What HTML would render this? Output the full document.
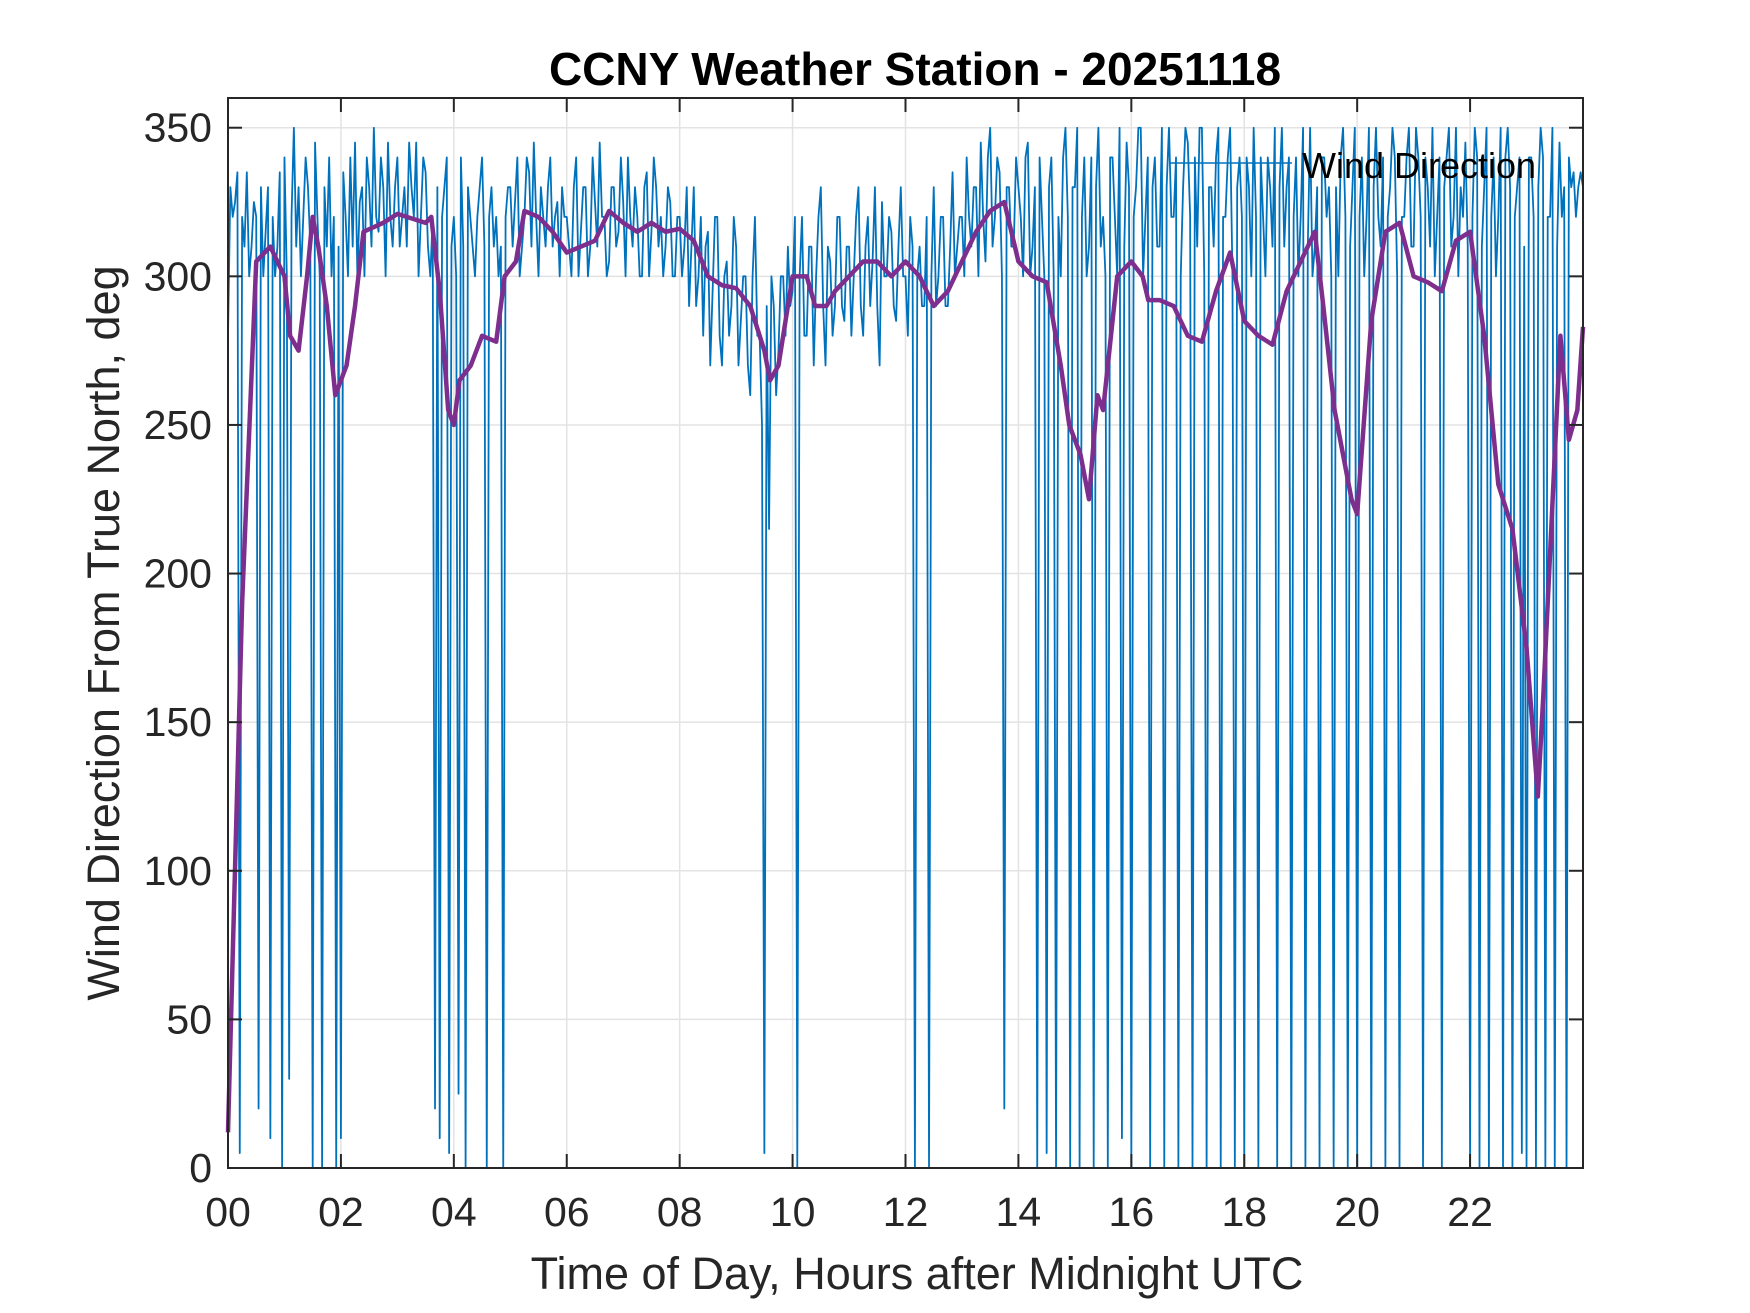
<!DOCTYPE html>
<html><head><meta charset="utf-8"><style>
html,body{margin:0;padding:0;background:#fff;width:1750px;height:1313px;overflow:hidden}
svg text{font-family:"Liberation Sans",Arial,sans-serif}
</style></head><body>
<svg id="chart" width="1750" height="1313" xmlns="http://www.w3.org/2000/svg">
<rect width="1750" height="1313" fill="#fff"/>
<g id="grid"></g>
<g id="series"></g>
<g id="axes"></g>
<text x="915" y="85" font-size="46" font-weight="bold" text-anchor="middle" fill="#000">CCNY Weather Station - 20251118</text>
<text x="917" y="1289" font-size="45" text-anchor="middle" fill="#262626">Time of Day, Hours after Midnight UTC</text>
<text transform="translate(119,633) rotate(-90)" font-size="45" text-anchor="middle" fill="#262626">Wind Direction From True North, deg</text>
<g>
<line x1="1170" y1="163" x2="1292" y2="163" stroke="#0072BD" stroke-width="1.5"/>
<text x="1302" y="178" font-size="36" fill="#000">Wind Direction</text>
</g>
</svg>
<script>
const xTicks=[0,2,4,6,8,10,12,14,16,18,20,22];
const xTickLabels=["00","02","04","06","08","10","12","14","16","18","20","22"];
const yTicks=[0,50,100,150,200,250,300,350];
const windDir=[
280,330,320,325,335,5,320,310,335,300,310,325,320,20,330,300,315,330,10,320,300,310,335,0,
340,300,30,320,350,310,330,300,320,340,330,310,0,345,320,300,0,330,310,340,300,320,0,310,
10,335,320,300,340,310,345,300,325,330,300,340,330,310,350,320,315,340,330,300,345,320,310,330,
340,310,320,330,310,345,330,320,345,300,320,340,335,310,300,320,20,330,10,320,330,340,5,310,
320,300,25,340,310,0,330,320,310,300,320,330,340,310,0,320,330,310,320,300,310,0,320,330,
330,310,325,340,300,310,320,340,335,310,345,320,300,330,320,310,330,340,310,320,325,300,330,320,
320,310,300,330,340,300,315,330,330,300,310,340,325,310,345,320,320,300,305,330,330,310,315,340,
325,300,340,320,310,330,320,300,300,330,335,300,315,340,330,310,320,300,310,330,325,300,300,320,
320,300,310,330,290,310,330,290,300,320,280,310,315,270,295,320,320,280,270,300,305,280,290,320,
310,270,285,300,300,270,260,300,320,280,280,250,5,290,215,300,290,260,275,300,300,280,310,290,
295,320,0,300,320,280,280,310,310,270,300,320,330,290,270,310,305,280,290,320,320,290,285,310,
310,280,300,320,330,290,280,310,320,290,305,330,290,270,325,300,300,320,315,290,285,310,330,300,
300,280,320,310,0,300,310,290,290,320,0,300,330,290,300,320,320,290,290,310,335,300,310,320,
320,300,340,320,310,330,330,300,345,320,305,340,350,310,320,340,335,300,20,330,330,310,310,340,
330,320,300,340,345,300,310,330,0,340,320,300,5,330,340,300,0,320,300,340,350,320,0,330,
330,350,0,320,340,300,310,340,0,330,350,310,320,300,0,340,340,320,300,350,10,310,345,330,
0,320,330,350,350,300,320,340,0,330,340,310,310,350,0,330,350,320,320,340,0,300,330,350,
345,320,0,340,310,350,350,300,0,330,330,310,340,350,0,320,320,340,350,300,0,330,340,320,
0,340,330,300,350,320,0,340,320,300,340,330,310,350,0,330,350,310,330,340,0,320,340,300,
320,350,0,310,350,300,310,330,0,340,340,320,330,300,0,330,300,340,350,320,0,310,330,350,
0,320,340,300,320,350,0,330,350,320,310,340,0,320,330,350,340,300,0,320,320,340,350,310,
310,350,340,320,0,340,330,310,350,300,320,340,0,330,340,350,310,320,350,300,330,320,345,310,
0,320,350,340,0,310,330,350,0,320,340,300,320,350,0,340,350,330,0,320,330,340,5,310,
0,340,340,320,0,330,350,340,0,320,320,350,0,310,345,320,330,0,340,330,335,320,330,335,330];
const avgTime=[0,0.25,0.5,0.75,1.0,1.1,1.25,1.4,1.5,1.6,1.75,1.9,2.1,2.25,2.4,2.75,3.0,3.5,3.6,3.75,3.9,4.0,4.1,4.3,4.5,4.75,4.9,5.1,5.25,5.5,5.75,6.0,6.5,6.75,7.0,7.25,7.5,7.75,8.0,8.25,8.5,8.75,9.0,9.25,9.5,9.6,9.75,10.0,10.25,10.4,10.6,10.75,11.0,11.25,11.5,11.75,12.0,12.25,12.5,12.75,13.0,13.25,13.5,13.75,14.0,14.25,14.5,14.75,14.9,15.1,15.25,15.4,15.5,15.75,16.0,16.2,16.3,16.5,16.75,17.0,17.25,17.5,17.75,18.0,18.25,18.5,18.75,19.0,19.25,19.4,19.6,19.75,19.9,20.0,20.25,20.5,20.75,21.0,21.25,21.5,21.75,22.0,22.25,22.5,22.75,23.0,23.2,23.3,23.5,23.6,23.75,23.9,24.0];
const avgDir=[12,190,305,310,300,280,275,300,320,310,290,260,270,290,315,318,321,318,320,295,255,250,265,270,280,278,300,305,322,320,315,308,312,322,318,315,318,315,316,312,300,297,296,290,275,265,270,300,300,290,290,295,300,305,305,300,305,300,290,295,305,315,322,325,305,300,298,270,250,240,225,260,255,300,305,300,292,292,290,280,278,295,308,285,280,277,295,305,315,290,255,240,225,220,285,315,318,300,298,295,312,315,280,230,215,175,125,160,240,280,245,255,283];

const L=228,R=1583,T=98,B=1168;
const xs=h=>L+(h/24)*(R-L);
const ys=v=>B-(v/360)*(B-T);
const NS="http://www.w3.org/2000/svg";
function mk(tag,parent){const e=document.createElementNS(NS,tag);parent.appendChild(e);return e;}
const grid=document.getElementById('grid'),axes=document.getElementById('axes'),series=document.getElementById('series');
xTicks.forEach((t,i)=>{
  const g=mk('line',grid);
  
  
  g.setAttribute('x1',xs(t));g.setAttribute('x2',xs(t));g.setAttribute('y1',T);g.setAttribute('y2',B);
  g.setAttribute('stroke','#e3e3e3');g.setAttribute('stroke-width','1.5');
  [[B,B-14],[T,T+14]].forEach(p=>{const k=mk('line',axes);
    
    
    k.setAttribute('x1',xs(t));k.setAttribute('x2',xs(t));k.setAttribute('y1',p[0]);k.setAttribute('y2',p[1]);k.setAttribute('stroke','#262626');k.setAttribute('stroke-width','2');});
  const tx=mk('text',axes);
  
  
  tx.setAttribute('x',xs(t));tx.setAttribute('y',B+58);tx.setAttribute('font-size','41');tx.setAttribute('text-anchor','middle');tx.setAttribute('fill','#262626');
  tx.textContent=xTickLabels[i];
});
yTicks.forEach(t=>{
  const g=mk('line',grid);
  
  
  g.setAttribute('x1',L);g.setAttribute('x2',R);g.setAttribute('y1',ys(t));g.setAttribute('y2',ys(t));
  g.setAttribute('stroke','#e3e3e3');g.setAttribute('stroke-width','1.5');
  [[L,L+14],[R,R-14]].forEach(p=>{const k=mk('line',axes);
    
    
    k.setAttribute('x1',p[0]);k.setAttribute('x2',p[1]);k.setAttribute('y1',ys(t));k.setAttribute('y2',ys(t));k.setAttribute('stroke','#262626');k.setAttribute('stroke-width','2');});
  const tx=mk('text',axes);
  
  
  tx.setAttribute('x',L-16);tx.setAttribute('y',ys(t)+14);tx.setAttribute('font-size','41');tx.setAttribute('text-anchor','end');tx.setAttribute('fill','#262626');
  tx.textContent=t;
});
const box=mk('rect',axes);


box.setAttribute('x',L);box.setAttribute('y',T);box.setAttribute('width',R-L);box.setAttribute('height',B-T);
box.setAttribute('fill','none');box.setAttribute('stroke','#262626');box.setAttribute('stroke-width','2');
const step=24/(windDir.length-1);
const p1=mk('polyline',series);


p1.setAttribute('points',windDir.map((v,i)=>xs(i*step)+','+ys(v)).join(' '));
p1.setAttribute('fill','none');p1.setAttribute('stroke','#0072BD');p1.setAttribute('stroke-width','1.8');p1.setAttribute('stroke-linejoin','round');
const p2=mk('polyline',series);


p2.setAttribute('points',avgDir.map((v,i)=>xs(avgTime[i])+','+ys(v)).join(' '));
p2.setAttribute('fill','none');p2.setAttribute('stroke','#7E2F8E');p2.setAttribute('stroke-width','4.5');p2.setAttribute('stroke-linejoin','round');
</script>
</body></html>
